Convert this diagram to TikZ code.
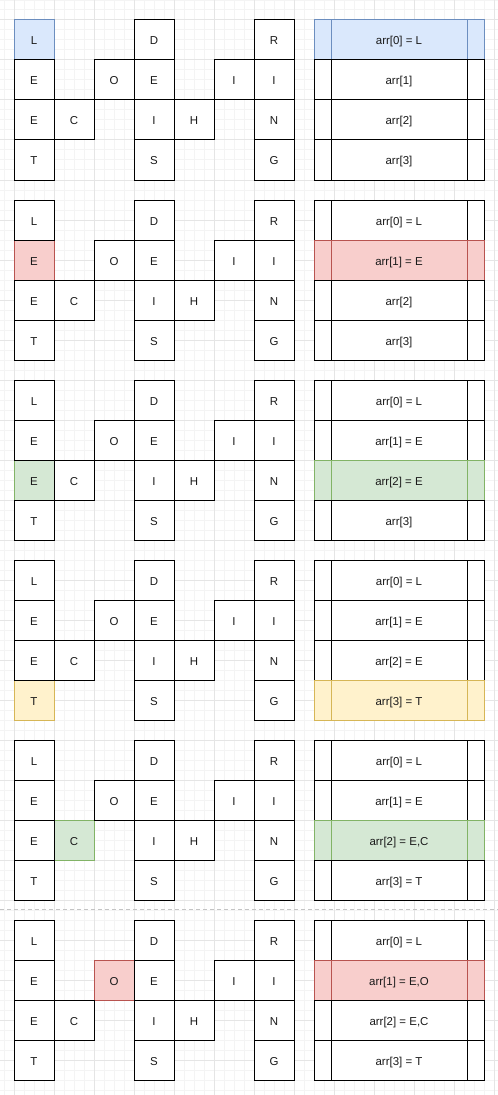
\documentclass[tikz,border=0pt]{standalone}
\usepackage{fontspec}
\setmainfont{Liberation Sans}
\usetikzlibrary{positioning}

\definecolor{plainfill}{HTML}{FFFFFF} \colorlet{plainline}{black}
\definecolor{bluefill}{HTML}{DAE8FC}  \definecolor{blueline}{HTML}{6C8EBF}
\definecolor{redfill}{HTML}{F8CECC}   \definecolor{redline}{HTML}{B85450}
\definecolor{greenfill}{HTML}{D5E8D4} \definecolor{greenline}{HTML}{82B366}
\definecolor{yellowfill}{HTML}{FFF2CC} \definecolor{yellowline}{HTML}{D6B656}
\definecolor{gridminor}{HTML}{F4F4F4} \definecolor{gridmajor}{HTML}{E5E5E5}
\definecolor{sepline}{HTML}{C4C4C4}   \definecolor{txt}{HTML}{1A1A1A}

% letters of the zigzag: column/row/letter
\def\letters{0/0/L,0/1/E,0/2/E,0/3/T,1/2/C,2/1/O,3/0/D,3/1/E,3/2/I,3/3/S,4/2/H,5/1/I,6/0/R,6/1/I,6/2/N,6/3/G}

\begin{document}
\begin{tikzpicture}[x=0.75pt,y=-0.75pt,line width=0.75pt,
                    every node/.style={font=\fontsize{8.6}{10}\selectfont,text=txt}]
  \tikzstyle{cell}=[draw=#1line,fill=#1fill,minimum width=30pt,minimum height=30pt,inner sep=0pt,
                    text height=7.5pt,text depth=0pt]
  \tikzset{cell/.default=plain}
  \tikzstyle{slot}=[cell=#1,minimum width=127.5pt,
    path picture={\draw[#1line,line width=0.75pt]
      ([xshift=12.75pt]path picture bounding box.north west) -- ([xshift=12.75pt]path picture bounding box.south west)
      ([xshift=-12.75pt]path picture bounding box.north east) -- ([xshift=-12.75pt]path picture bounding box.south east);}]
  \tikzset{slot/.default=plain}

  \useasboundingbox[fill=white] (0,0) rectangle (498,1095);
  \begin{scope}[shift={(14,20)}]
    \draw[gridminor,step=7.5pt] (-14,-20) grid (484,1075);
    \draw[gridmajor,step=30pt]  (-14,-20) grid (484,1075);
  \end{scope}

  \foreach \p/\hi/\hc/\hr/\ta/\tb/\tc/\td in {
      0/1/blue/1/{arr[0] = L}/{arr[1]}/{arr[2]}/{arr[3]},
      1/2/red/2/{arr[0] = L}/{arr[1] = E}/{arr[2]}/{arr[3]},
      2/3/green/3/{arr[0] = L}/{arr[1] = E}/{arr[2] = E}/{arr[3]},
      3/4/yellow/4/{arr[0] = L}/{arr[1] = E}/{arr[2] = E}/{arr[3] = T},
      4/5/green/3/{arr[0] = L}/{arr[1] = E}/{arr[2] = E,C}/{arr[3] = T},
      5/6/red/2/{arr[0] = L}/{arr[1] = E,O}/{arr[2] = E,C}/{arr[3] = T}}
  {
    % marked letter first, the others over it
    \foreach \c/\r/\t [count=\i] in \letters {
      \ifnum\i=\hi \node[cell=\hc] (cell\p-\i) at (34+40*\c,40+180*\p+40*\r) {\t}; \fi
    }
    \foreach \c/\r/\t [count=\i] in \letters {
      \ifnum\i=\hi \else \node[cell] (cell\p-\i) at (34+40*\c,40+180*\p+40*\r) {\t}; \fi
    }
    % the array
    \foreach \j in {1,...,4} {
      \ifnum\j=\hr \edef\tone{\hc}\else \def\tone{plain}\fi
      \node[slot=\tone] (slot\p-\j) at (399,40+180*\p+40*\j-40)
        {\ifcase\j\or\ta\or\tb\or\tc\or\td\fi};
    }
  }

  \coordinate (sepL) at (0,909.5);
  \coordinate (sepR) at (498,909.5);
  \draw[sepline,dash pattern=on 3pt off 2.25pt] (sepL) -- (sepR);
\end{tikzpicture}
\end{document}
